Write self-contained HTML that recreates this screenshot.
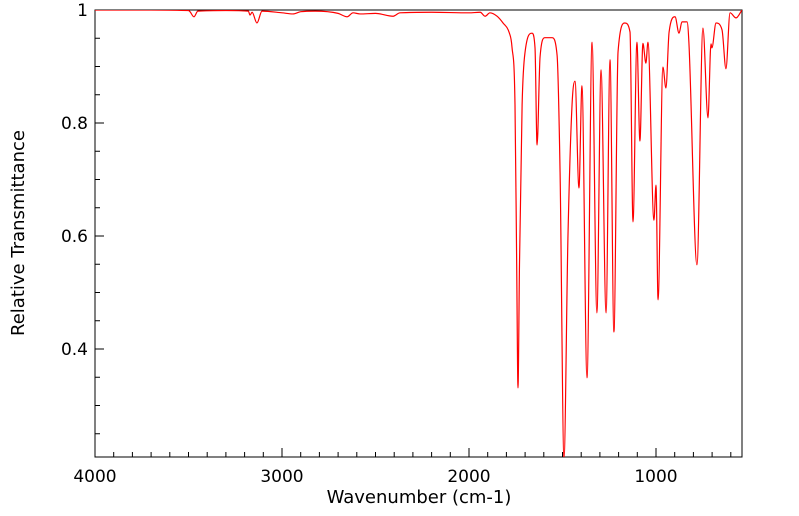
<!DOCTYPE html>
<html><head><meta charset="utf-8"><style>
html,body{margin:0;padding:0;background:#fff;}
svg{display:block;font-family:"DejaVu Sans","Liberation Sans",sans-serif;}
</style></head><body>
<svg id="chart" width="799" height="516">
<rect x="95" y="10" width="647" height="447" fill="none" stroke="#000" stroke-width="1"/>
<g id="ticks"></g>
<g id="labels"></g>
<clipPath id="clip"><rect x="95" y="10" width="647" height="447"/></clipPath>
<path id="line" fill="none" stroke="#ff0000" stroke-width="1.2" clip-path="url(#clip)"/>
<text x="419" y="503" font-size="18" text-anchor="middle">Wavenumber (cm-1)</text>
<text x="24" y="233" font-size="18" text-anchor="middle" transform="rotate(-90 24 233)">Relative Transmittance</text>
</svg>
<script>
const wavenumbers=[4000,3700,3500,3492,3471,3450,3300,3180,3171,3160,3134,3107,3000,2941,2900,2823,2700,2652,2620,2583,2500,2406,2369,2200,2000,1940,1914,1888,1850,1818,1785,1770,1754,1745,1738,1730,1716,1700,1663,1647,1636,1620,1594,1578,1556,1529,1513,1492,1471,1449,1433,1412,1396,1369,1342,1316,1294,1267,1246,1225,1203,1166,1139,1123,1102,1086,1070,1054,1043,1011,1000,989,963,947,930,898,877,861,834,824,781,749,722,706,701,679,647,626,604,572,540];
const transmittance=[1.0,1.0,0.999,0.997,0.988,0.998,0.999,0.998,0.991,0.996,0.977,0.998,0.995,0.993,0.997,0.998,0.994,0.988,0.995,0.993,0.994,0.989,0.995,0.996,0.995,0.996,0.989,0.995,0.989,0.977,0.96,0.934,0.832,0.55,0.331,0.55,0.832,0.926,0.959,0.933,0.761,0.917,0.951,0.951,0.951,0.920,0.713,0.207,0.596,0.832,0.874,0.685,0.866,0.349,0.943,0.464,0.894,0.464,0.912,0.430,0.926,0.977,0.961,0.625,0.943,0.768,0.941,0.906,0.943,0.628,0.690,0.487,0.899,0.862,0.961,0.988,0.959,0.979,0.979,0.942,0.549,0.968,0.809,0.940,0.933,0.977,0.965,0.896,0.995,0.986,1.0];
const xTickLabels=[4000,3000,2000,1000];
const yTickLabels=[0.4,0.6,0.8,1];
const NS="http://www.w3.org/2000/svg";
function xs(w){return 95+(4000-w)*0.187;}
function ys(t){return 10+(1-t)*565;}
// monotone cubic path
const P=wavenumbers.map((w,i)=>[xs(w),ys(transmittance[i])]);
const n=P.length,dl=[],m=[];
for(let i=0;i<n-1;i++)dl.push((P[i+1][1]-P[i][1])/(P[i+1][0]-P[i][0]));
for(let i=0;i<n;i++){
  if(i===0)m.push(dl[0]);else if(i===n-1)m.push(dl[n-2]);
  else m.push(dl[i-1]*dl[i]<=0?0:(dl[i-1]+dl[i])/2);
}
for(let i=0;i<n-1;i++){if(dl[i]===0){m[i]=0;m[i+1]=0;continue;}
  const a=m[i]/dl[i],b=m[i+1]/dl[i],s=a*a+b*b;if(s>9){const t=3/Math.sqrt(s);m[i]=t*a*dl[i];m[i+1]=t*b*dl[i];}}
let d="M"+P[0][0].toFixed(2)+" "+P[0][1].toFixed(2);
for(let i=0;i<n-1;i++){const h=(P[i+1][0]-P[i][0])/3;
  d+="C"+(P[i][0]+h).toFixed(2)+" "+(P[i][1]+m[i]*h).toFixed(2)+" "+(P[i+1][0]-h).toFixed(2)+" "+(P[i+1][1]-m[i+1]*h).toFixed(2)+" "+P[i+1][0].toFixed(2)+" "+P[i+1][1].toFixed(2);}
document.getElementById('line').setAttribute('d',d);
const tg=document.getElementById('ticks'),lg=document.getElementById('labels');
function ln(x1,y1,x2,y2){const l=document.createElementNS(NS,'line');l.setAttribute('x1',x1);l.setAttribute('y1',y1);l.setAttribute('x2',x2);l.setAttribute('y2',y2);l.setAttribute('stroke','#000');


tg.appendChild(l);}
for(let w=4000;w>=540;w-=100){const x=xs(w);const major=w%1000===0;ln(x,457,x,457-(major?9:5));}
for(let t=0.25;t<=1.0001;t+=0.05){const y=ys(t);const major=Math.abs(t*10-Math.round(t*10))<1e-6&&Math.round(t*10)%2===0;ln(95,y,95+(major?9:5),y);}
xTickLabels.forEach(v=>{const t=document.createElementNS(NS,'text');t.setAttribute('x',xs(v));t.setAttribute('y',482);t.setAttribute('font-size','17');t.setAttribute('text-anchor','middle');t.textContent=v;


lg.appendChild(t);});
yTickLabels.forEach(v=>{const t=document.createElementNS(NS,'text');t.setAttribute('x',88);t.setAttribute('y',ys(v)+6);t.setAttribute('font-size','17');t.setAttribute('text-anchor','end');t.textContent=v;


lg.appendChild(t);});
</script>
</body></html>
